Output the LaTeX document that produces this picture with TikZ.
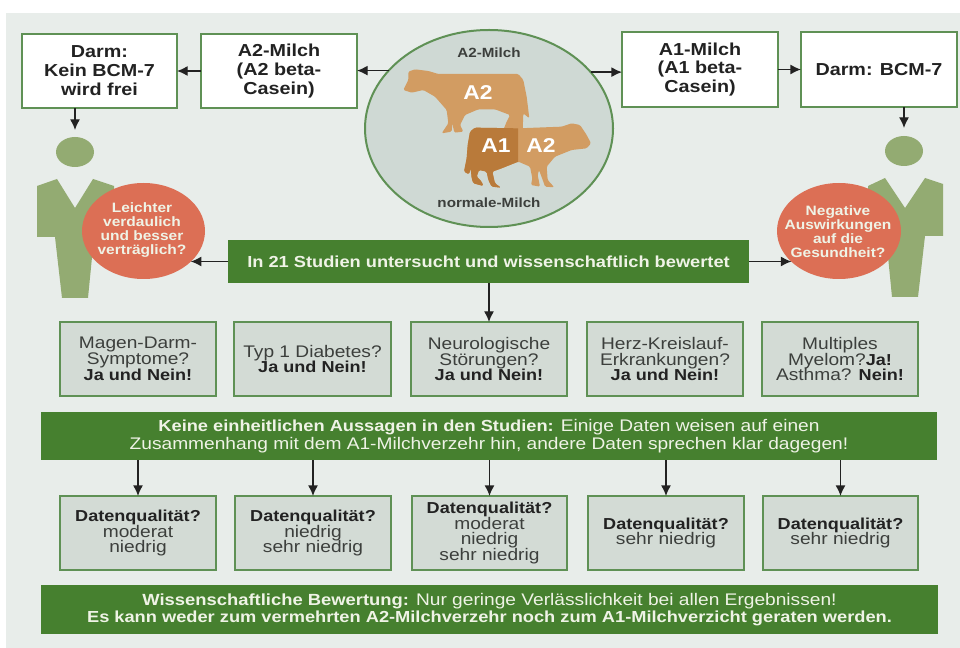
\documentclass[tikz,border=0pt]{standalone}
\usepackage{fontspec}
\setmainfont[FakeStretch=1.14]{Liberation Sans}
\usetikzlibrary{shapes.geometric,arrows.meta,calc}
\definecolor{panel}{HTML}{E8EDEA}
\definecolor{frame}{HTML}{5F9155}
\definecolor{greyfill}{HTML}{D3DBD5}
\definecolor{barg}{HTML}{46802F}
\definecolor{person}{HTML}{93AB72}
\definecolor{coral}{HTML}{DC6F55}
\definecolor{cowl}{HTML}{D29C62}
\definecolor{cowd}{HTML}{B97A3A}
\definecolor{oval}{HTML}{CFD9D4}
\definecolor{ink}{HTML}{222222}
\definecolor{soft}{HTML}{3C3F3C}
\definecolor{bartext}{HTML}{EFF3E6}
\newcommand\bnode[7]{\node[#2,minimum width={(#5-#3)*0.75pt},minimum height={(#6-#4)*0.75pt}] (#1) at ({(#3+#5)/2},{(#4+#6)/2}) {#7};}
\newcommand\fsz[2]{\fontsize{#1}{#2}\selectfont}
\newcommand\bk[1]{{\fontsize{11.9}{11.8}\selectfont\bfseries\color{ink}#1}}
\tikzset{
 base/.style={inner sep=0pt,outer sep=0pt,align=center},
 whitebox/.style={base,draw=frame,line width=1.5pt,fill=white,text=ink,font=\fsz{13}{14.2}\bfseries},
 greybox/.style={base,draw=frame,line width=1.5pt,fill=greyfill,text=soft,font=\fsz{12.6}{11.8}},
 bar/.style={base,fill=barg,text=bartext},
 arr/.style={draw=ink,line width=1pt,-{Latex[length=8pt,width=7.5pt]}},
 blob/.style={base,ellipse,fill=coral},
 blobtext/.style={base,text=bartext,font=\fsz{10.2}{10.5}\bfseries},
 cowlabel/.style={base,text=white,font=\fsz{15}{15}\bfseries},
 milklabel/.style={base,text=soft,font=\fsz{10}{10}\bfseries},
}
\begin{document}
\begin{tikzpicture}[x=0.75pt,y=-0.75pt]
\useasboundingbox (0,0) rectangle (960,648);
\fill[white] (0,0) rectangle (960,648);
\fill[panel] (6,13) rectangle (960,648);

% people
\fill[person] (75,152) ellipse [x radius=19,y radius=15];
\fill[person] (37,186) -- (57,179) -- (75,208) -- (93,179) -- (114,186) -- (114,237) -- (94,237) -- (88,298) -- (62,298) -- (55,237) -- (37,237) -- cycle;
\fill[person] (904,151) ellipse [x radius=19,y radius=15];
\fill[person] (868,186) -- (885,178) -- (905,208) -- (925,178) -- (943,184) -- (943,236) -- (925,236) -- (918,297) -- (892,297) -- (886,236) -- (868,236) -- cycle;

% milk oval
\bnode{milk}{base,ellipse,draw=frame,line width=1.5pt,fill=oval}{365}{30}{613}{227}{}

% cows
\begin{scope}[shift={(395,60)},x=0.25pt,y=-0.25pt]
\fill[cowl,rounded corners=1pt] (25,90) -- (40,60) -- (40,35) -- (60,28) -- (100,33) -- (130,42) -- (250,42) -- (370,42) -- (385,60) -- (395,110) -- (403,175) -- (385,160) -- (383,210) -- (325,210) -- (335,185) -- (345,165) -- (300,148) -- (250,148) -- (210,165) -- (195,195) -- (205,215) -- (178,218) -- (172,190) -- (170,215) -- (140,220) -- (160,190) -- (155,150) -- (120,110) -- (85,90) -- (50,98) -- cycle;
\end{scope}
\begin{scope}[shift={(455,115)},x=0.25pt,y=-0.25pt]
\def\cowtwo{(408,85) -- (395,60) -- (375,30) -- (350,25) -- (320,35) -- (190,40) -- (60,38) -- (45,50) -- (38,90) -- (35,130) -- (27,170) -- (42,178) -- (47,160) -- (50,190) -- (55,205) -- (85,213) -- (80,200) -- (65,185) -- (72,165) -- (95,170) -- (100,195) -- (110,215) -- (138,218) -- (120,205) -- (112,170) -- (140,160) -- (190,140) -- (225,155) -- (232,190) -- (228,210) -- (255,215) -- (248,180) -- (252,165) -- (265,200) -- (270,215) -- (298,217) -- (278,195) -- (275,155) -- (300,125) -- (350,105) -- (395,100) -- cycle}
\fill[cowl,rounded corners=1pt] \cowtwo;
\begin{scope}
\clip (0,0) rectangle (189,240);
\fill[cowd,rounded corners=1pt] \cowtwo;
\end{scope}
\end{scope}
\node[cowlabel] (la) at (478,93) {A2};
\node[cowlabel] (lb) at (496,146) {A1};
\node[cowlabel] (lc) at (541,146) {A2};
\node[milklabel] (ma) at (489,53) {A2-Milch};
\node[milklabel] (mn) at (489,203) {normale-Milch};

% top boxes
\bnode{dl}{whitebox}{22}{34}{177}{108}{Darm:\\Kein BCM-7\\wird frei}
\bnode{az}{whitebox}{201}{34}{357}{108}{A2-Milch\\(A2 beta-\\Casein)}
\bnode{ae}{whitebox}{622}{32}{778}{107}{A1-Milch\\(A1 beta-\\Casein)}
\bnode{dr}{whitebox}{801}{32}{957}{107}{Darm: BCM-7}

% question blobs
\bnode{cl}{blob}{82}{183}{205}{279}{}
\node[blobtext] (tl) at (142,230) {Leichter\\verdaulich\\und besser\\verträglich?};
\bnode{cr}{blob}{777}{183}{901}{279}{}
\node[blobtext] (tr) at (838,232) {Negative\\Auswirkungen\\auf die\\Gesundheit?};

% bars
\bnode{ba}{bar,font=\fsz{12}{14}\bfseries}{228}{240}{749}{283}{In 21 Studien untersucht und wissenschaftlich bewertet}
\bnode{bb}{bar,font=\fsz{12.6}{14}}{41}{412}{937}{460}{{\fontsize{12}{14}\selectfont\bfseries Keine einheitlichen Aussagen in den Studien:} Einige Daten weisen auf einen\\Zusammenhang mit dem A1-Milchverzehr hin, andere Daten sprechen klar dagegen!}
\bnode{bc}{bar,font=\fsz{12.6}{13.2}}{41}{585}{938}{634}{{\fontsize{12.1}{13.2}\selectfont\bfseries Wissenschaftliche Bewertung:} Nur geringe Verlässlichkeit bei allen Ergebnissen!\\{\fontsize{12}{13.2}\selectfont\bfseries Es kann weder zum vermehrten A2-Milchverzehr noch zum A1-Milchverzicht geraten werden.}}

% first row
\bnode{ra}{greybox}{60}{322}{216}{396}{Magen-Darm-\\Symptome?\\\bk{Ja und Nein!}}
\bnode{rb}{greybox}{234}{322}{391}{396}{Typ 1 Diabetes?\\\bk{Ja und Nein!}}
\bnode{rc}{greybox}{411}{322}{567}{396}{Neurologische\\Störungen?\\\bk{Ja und Nein!}}
\bnode{rd}{greybox}{587}{322}{743}{396}{Herz-Kreislauf-\\Erkrankungen?\\\bk{Ja und Nein!}}
\bnode{re}{greybox}{762}{322}{918}{396}{Multiples\\Myelom?\bk{Ja!}\\Asthma? \bk{Nein!}}

% second row
\bnode{qa}{greybox}{60}{496}{216}{570}{\bk{Datenqualität?}\\moderat\\niedrig}
\bnode{qb}{greybox}{235}{496}{391}{570}{\bk{Datenqualität?}\\niedrig\\sehr niedrig}
\bnode{qc}{greybox}{412}{496}{567}{570}{\bk{Datenqualität?}\\moderat\\niedrig\\sehr niedrig}
\bnode{qd}{greybox}{588}{496}{744}{570}{\bk{Datenqualität?}\\sehr niedrig}
\bnode{qe}{greybox}{763}{496}{918}{570}{\bk{Datenqualität?}\\sehr niedrig}

% connectors
\draw[arr] (az.west) -- (dl.east);
\draw[arr] (milk.150.6) -- (milk.150.6 -| az.east);
\draw[arr] (milk.29.4) -- (milk.29.4 -| ae.west);
\draw[arr] (ae.east) -- (dr.west);
\coordinate (headl) at (75,130);
\coordinate (headr) at (904,128);
\draw[arr] (dl.south -| headl) -- (headl);
\draw[arr] (dr.south -| headr) -- (headr);
\draw[arr] (ba.west) -- (ba.west -| cl.-33);
\draw[arr] (ba.east) -- (ba.east -| cr.213);
\draw[arr] (ba.south -| rc.north) -- (rc.north);
\draw[arr] (bb.south -| qa.north) -- (qa.north);
\draw[arr] (bb.south -| qb.north) -- (qb.north);
\draw[arr] (bb.south -| qc.north) -- (qc.north);
\draw[arr] (bb.south -| qd.north) -- (qd.north);
\draw[arr] (bb.south -| qe.north) -- (qe.north);
\end{tikzpicture}
\end{document}
